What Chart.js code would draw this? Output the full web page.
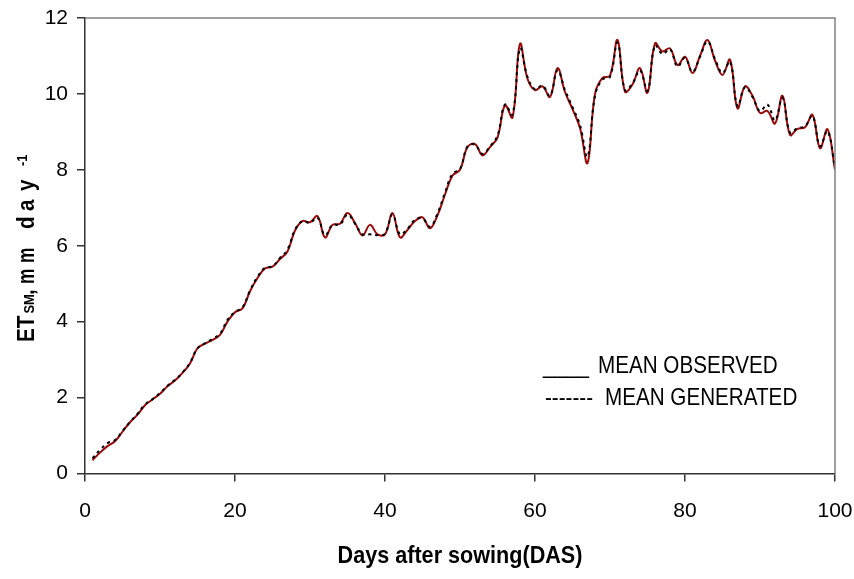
<!DOCTYPE html>
<html>
<head>
<meta charset="utf-8">
<script src="https://cdn.jsdelivr.net/npm/chart.js@4"></script>
<style>
  html, body { margin: 0; padding: 0; background: #fff; }
  #wrap { width: 854px; height: 579px; }
</style>
</head>
<body>
<div id="wrap"><canvas id="etChart" width="854" height="579"></canvas></div>
<script>
// days after sowing, 1..100
const days = [
  1, 2, 3, 4, 5, 6, 7, 8, 9, 10, 11, 12, 13, 14, 15, 16, 17, 18, 19, 20,
  21, 22, 23, 24, 25, 26, 27, 28, 29, 30, 31, 32, 33, 34, 35, 36, 37, 38, 39, 40,
  41, 42, 43, 44, 45, 46, 47, 48, 49, 50, 51, 52, 53, 54, 55, 56, 57, 58, 59, 60,
  61, 62, 63, 64, 65, 66, 67, 68, 69, 70, 71, 72, 73, 74, 75, 76, 77, 78, 79, 80,
  81, 82, 83, 84, 85, 86, 87, 88, 89, 90, 91, 92, 93, 94, 95, 96, 97, 98, 99, 100
];

// mean observed ET (mm/day)
const observed = [
  0.35, 0.55, 0.72, 0.85, 1.10, 1.35, 1.55, 1.80, 1.95, 2.10,
  2.30, 2.45, 2.65, 2.90, 3.30, 3.42, 3.52, 3.65, 4.00, 4.25,
  4.35, 4.80, 5.15, 5.40, 5.45, 5.65, 5.85, 6.40, 6.65, 6.62,
  6.78, 6.22, 6.55, 6.58, 6.86, 6.60, 6.27, 6.55, 6.30, 6.30,
  6.86, 6.22, 6.42, 6.65, 6.75, 6.46, 6.80, 7.35, 7.85, 8.00,
  8.60, 8.68, 8.38, 8.60, 8.85, 9.70, 9.38, 11.32, 10.40, 10.10,
  10.20, 9.92, 10.68, 10.05, 9.60, 9.10, 8.18, 10.00, 10.42, 10.48,
  11.42, 10.06, 10.25, 10.68, 10.03, 11.33, 11.12, 11.20, 10.76, 10.98,
  10.55, 11.00, 11.42, 10.88, 10.50, 10.90, 9.62, 10.20, 9.95, 9.50,
  9.55, 9.22, 9.95, 8.92, 9.08, 9.12, 9.45, 8.57, 9.07, 8.00
];

// mean generated ET (mm/day)
const generated = [
  0.40, 0.62, 0.80, 0.88, 1.12, 1.36, 1.57, 1.82, 1.96, 2.12,
  2.31, 2.47, 2.66, 2.92, 3.30, 3.43, 3.55, 3.68, 4.05, 4.25,
  4.38, 4.82, 5.18, 5.42, 5.46, 5.68, 5.90, 6.42, 6.65, 6.60,
  6.74, 6.28, 6.55, 6.56, 6.82, 6.58, 6.30, 6.30, 6.28, 6.32,
  6.82, 6.30, 6.45, 6.68, 6.72, 6.50, 6.85, 7.40, 7.90, 8.02,
  8.62, 8.66, 8.42, 8.62, 8.90, 9.72, 9.45, 11.20, 10.45, 10.12,
  10.22, 9.95, 10.62, 10.10, 9.65, 9.18, 8.35, 9.95, 10.38, 10.45,
  11.35, 10.10, 10.28, 10.62, 10.08, 11.28, 11.05, 11.18, 10.72, 10.95,
  10.58, 10.98, 11.38, 10.92, 10.55, 10.85, 9.68, 10.18, 9.92, 9.55,
  9.72, 9.30, 9.90, 8.98, 9.10, 9.15, 9.42, 8.62, 9.02, 8.05
];

const xTicks = [0, 20, 40, 60, 80, 100];
const yTicks = [0, 2, 4, 6, 8, 10, 12];

const FONT = "'Liberation Sans', Arial, sans-serif";
const NARROW = 0.86; // the original uses a narrow face; squeeze the regular one

function narrowText(ctx, text, x, y, sx) {
  ctx.save();
  ctx.translate(x, y);
  ctx.scale(sx, 1);
  ctx.fillText(text, 0, 0);
  ctx.restore();
}

// frame, axis titles and text legend
const decorations = {
  id: 'decorations',
  afterDraw(chart) {
    const ctx = chart.ctx;
    const a = chart.chartArea;
    ctx.save();
    // top and right border of plot area
    ctx.strokeStyle = '#808080';
    ctx.lineWidth = 1.5;
    ctx.beginPath();
    ctx.moveTo(a.left, a.top);
    ctx.lineTo(a.right, a.top);
    ctx.lineTo(a.right, a.bottom);
    ctx.stroke();

    ctx.fillStyle = '#000';
    ctx.textBaseline = 'alphabetic';
    ctx.textAlign = 'left';

    // x title
    ctx.font = 'bold 24px ' + FONT;
    const xt = 'Days after sowing(DAS)';
    const xw = ctx.measureText(xt).width * 0.9;
    narrowText(ctx, xt, (a.left + a.right) / 2 - xw / 2, 563, 0.9);

    // y title, rotated, glyph groups placed along the axis
    const parts = [
      { t: 'ET', f: 'bold 24px ', at: 0, dy: 0 },
      { t: 'SM', f: 'bold 15px ', at: 28.5, dy: 0 },
      { t: ',', f: 'bold 24px ', at: 47, dy: 0 },
      { t: 'm', f: 'bold 24px ', at: 58, dy: 0 },
      { t: 'm', f: 'bold 24px ', at: 79, dy: 0 },
      { t: 'd', f: 'bold 24px ', at: 113, dy: 0 },
      { t: 'a', f: 'bold 24px ', at: 131, dy: 0 },
      { t: 'y', f: 'bold 24px ', at: 151, dy: 0 },
      { t: '-1', f: 'bold 15px ', at: 176, dy: -7 }
    ];
    ctx.save();
    ctx.translate(33.5, 342);
    ctx.rotate(-Math.PI / 2);
    parts.forEach(p => {
      ctx.font = p.f + FONT;
      const sx = p.t === 'm' ? 0.72 : NARROW;
      narrowText(ctx, p.t, p.at, p.dy, sx);
    });
    ctx.restore();

    // legend drawn as text, like the original
    ctx.font = '24px ' + FONT;
    narrowText(ctx, '____', 543, 373, NARROW);
    narrowText(ctx, 'MEAN OBSERVED', 598, 373, NARROW);
    narrowText(ctx, '-------', 545, 405, NARROW);
    narrowText(ctx, 'MEAN GENERATED', 605, 405, NARROW);
    ctx.restore();
  }
};

const ctx = document.getElementById('etChart').getContext('2d');
const etChart = new Chart(ctx, {
  type: 'line',
  data: {
    datasets: [
      {
        label: 'MEAN GENERATED',
        data: days.map((d, i) => ({ x: d, y: generated[i] })),
        borderColor: '#000',
        borderWidth: 2,
        borderDash: [3, 4],
        pointRadius: 0,
        tension: 0.4,
        fill: false,
        order: 0
      },
      {
        label: 'MEAN OBSERVED',
        data: days.map((d, i) => ({ x: d, y: observed[i] })),
        borderColor: '#9b0a0a',
        borderWidth: 2,
        pointRadius: 0,
        tension: 0.4,
        fill: false,
        order: 1
      }
    ]
  },
  options: {
    responsive: false,
    animation: false,
    layout: { padding: { top: 18, right: 19, left: 0, bottom: 0 } },
    plugins: {
      legend: { display: false },
      tooltip: { enabled: false }
    },
    scales: {
      x: {
        type: 'linear',
        min: 0,
        max: 100,
        afterBuildTicks: s => { s.ticks = xTicks.map(v => ({ value: v })); },
        afterFit: s => { s.height = 105.5; s.paddingLeft = 0; s.paddingRight = 0; },
        grid: { drawOnChartArea: false, drawTicks: true, tickLength: 8, color: '#333', lineWidth: 1.5 },
        border: { display: true, color: '#333', width: 1.5 },
        ticks: { color: '#000', font: { family: FONT, size: 21 }, padding: 17, maxRotation: 0 }
      },
      y: {
        type: 'linear',
        min: 0,
        max: 12,
        afterBuildTicks: s => { s.ticks = yTicks.map(v => ({ value: v })); },
        afterFit: s => { s.width = 85; s.paddingTop = 0; s.paddingBottom = 0; },
        grid: { drawOnChartArea: false, drawTicks: true, tickLength: 8, color: '#333', lineWidth: 1.5 },
        border: { display: true, color: '#333', width: 1.5 },
        ticks: { color: '#000', font: { family: FONT, size: 21 }, padding: 9 }
      }
    }
  },
  plugins: [decorations]
});
</script>
</body>
</html>
